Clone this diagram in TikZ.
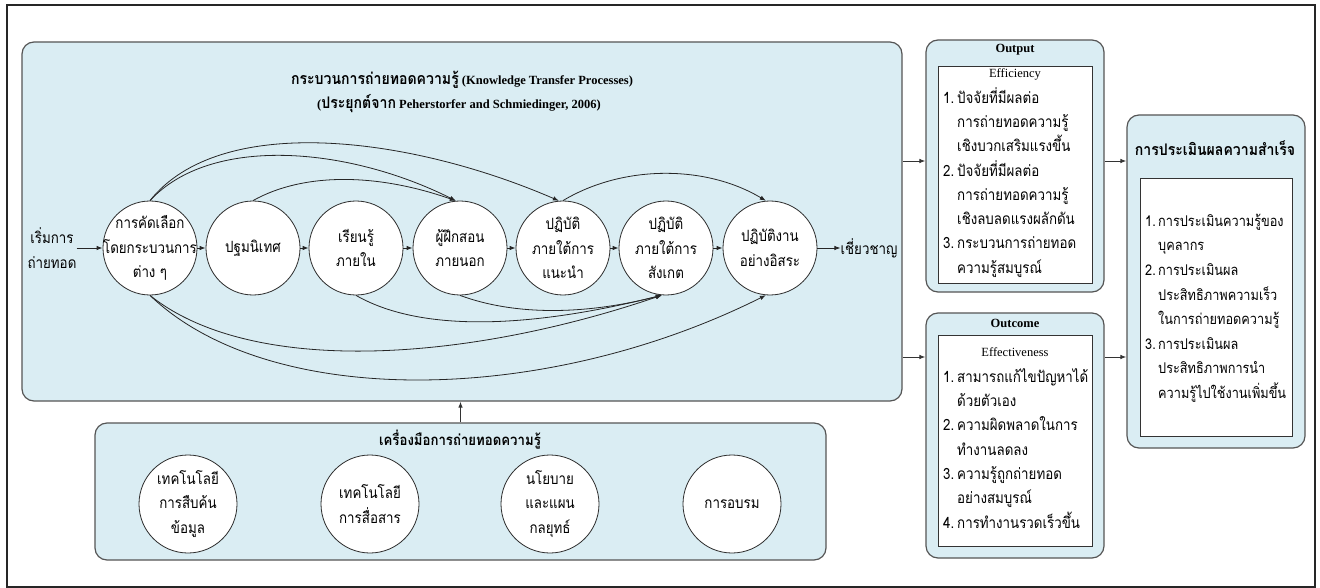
\documentclass[tikz,border=0pt]{standalone}
\usepackage{fontspec}
\setmainfont{Liberation Serif}
\newfontfamily\thai[Script=Thai, FakeStretch=0.86]{Loma}
\newfontfamily\thaib[Script=Thai, FakeStretch=0.88]{Loma}
\usetikzlibrary{arrows.meta,calc}
\definecolor{panelfill}{RGB}{218,237,243}
\definecolor{panelline}{RGB}{85,85,85}
\definecolor{circline}{RGB}{45,45,45}
\tikzset{
 panel/.style={draw=panelline, fill=panelfill, rounded corners=12pt, line width=1.2pt, inner sep=0pt},
 innerbox/.style={draw=black!80, fill=white, line width=0.8pt, inner sep=0pt},
 stage/.style={circle, draw=circline, fill=white, line width=0.8pt, minimum size=94pt, inner sep=0pt},
 tool/.style={circle, draw=circline, fill=white, line width=0.8pt, minimum size=98pt, inner sep=0pt},
 ctext/.style={font=\thai\fontsize{15.5}{24.5}\selectfont, align=center, inner sep=0pt},
 itemlist/.style={font=\thai\fontsize{15.5}{24.3}\selectfont, align=left, inner sep=0pt, anchor=north west},
 ttlthai/.style={font=\thaib\bfseries\fontsize{15}{18}\selectfont, inner sep=0pt},
 arr/.style={-{Latex[length=6pt,width=4.5pt]}, line width=0.8pt, draw=black!85},
 flow/.style={-{Latex[length=6pt,width=4.5pt]}, line width=0.9pt, draw=black!80},
}
\begin{document}
\begin{tikzpicture}[x=1pt,y=-1pt]
\useasboundingbox (0,0) rectangle (1320,588);
\draw[line width=2.5pt, draw=black!85] (7,5) rectangle (1315,587);

% panels
\node[panel, minimum width=880pt, minimum height=359pt] (proc) at (462,221.5) {};
\node[panel, minimum width=731pt, minimum height=137pt] (tools) at (460.5,491.5) {};
\node[panel, minimum width=178pt, minimum height=252pt] (outp) at (1015,166) {};
\node[innerbox, minimum width=154pt, minimum height=217pt] (outpin) at (1015,174.5) {};
\node[panel, minimum width=178pt, minimum height=245pt] (outc) at (1015,435.5) {};
\node[innerbox, minimum width=154pt, minimum height=211pt] (outcin) at (1015,440.5) {};
\node[panel, minimum width=178pt, minimum height=333pt] (eval) at (1216,281.5) {};
\node[innerbox, minimum width=152pt, minimum height=258pt] (evalin) at (1216,307) {};

% titles
\node[font=\bfseries\fontsize{12.5}{14}\selectfont, inner sep=0pt] (ttl1) at (462,80)
  {{\thaib\fontsize{16}{18}\selectfont กระบวนการถ่ายทอดความรู้} (Knowledge Transfer Processes)};
\node[font=\bfseries\fontsize{12.5}{14}\selectfont, inner sep=0pt] (ttl2) at (459,104)
  {({\thaib\fontsize{16}{18}\selectfont ประยุกต์จาก} Peherstorfer and Schmiedinger, 2006)};

% stages
\node[stage] (n1) at (150,248) {};
\node[stage] (n2) at (253,248) {};
\node[stage] (n3) at (356,248) {};
\node[stage] (n4) at (460,248) {};
\node[stage] (n5) at (563,248) {};
\node[stage] (n6) at (666,248) {};
\node[stage] (n7) at (770,248) {};
\node[ctext] (n1t) at (n1) {การคัดเลือก\\โดยกระบวนการ\\ต่าง ๆ};
\node[ctext] (n2t) at (n2) {ปฐมนิเทศ};
\node[ctext] (n3t) at (n3) {เรียนรู้\\ภายใน};
\node[ctext] (n4t) at (n4) {ผู้ฝึกสอน\\ภายนอก};
\node[ctext] (n5t) at (n5) {ปฏิบัติ\\ภายใต้การ\\แนะนำ};
\node[ctext] (n6t) at (n6) {ปฏิบัติ\\ภายใต้การ\\สังเกต};
\node[ctext] (n7t) at (n7) {ปฏิบัติงาน\\อย่างอิสระ};
\node[ctext] (start) at (52,248) {เริ่มการ\\ถ่ายทอด};
\node[ctext] (finish) at (869,248) {เชี่ยวชาญ};

\draw[arr] (start.east) -- (n1.west);
\draw[arr] (n1) -- (n2);
\draw[arr] (n2) -- (n3);
\draw[arr] (n3) -- (n4);
\draw[arr] (n4) -- (n5);
\draw[arr] (n5) -- (n6);
\draw[arr] (n6) -- (n7);
\draw[arr] (n7.east) -- (finish.west);

% upper arcs
\draw[arr] (n1.north) .. controls +(70,-88) and +(-150,-65) .. (n5.95);
\draw[arr] (n1.north) .. controls +(60,-65) and +(-110,-55) .. (n4.95);
\draw[arr] (n2.north) .. controls +(50,-28) and +(-80,-28) .. (n4.95);
\draw[arr] (n5.north) .. controls +(60,-36) and +(-60,-36) .. (n7.95);
% lower arcs
\draw[arr] (n1.south) .. controls +(120,115) and +(-220,110) .. (n7.265);
\draw[arr] (n1.south) .. controls +(100,80) and +(-200,68) .. (n6.265);
\draw[arr] (n3.south) .. controls +(70,40) and +(-120,30) .. (n6.265);
\draw[arr] (n4.south) .. controls +(60,22) and +(-70,18) .. (n6.265);

% tools
\node[ttlthai] (toolst) at (460,440) {เครื่องมือการถ่ายทอดความรู้};
\node[tool] (t1) at (188,504) {};
\node[tool] (t2) at (370,504) {};
\node[tool] (t3) at (550,504) {};
\node[tool] (t4) at (732,504) {};
\node[ctext] (t1t) at (t1) {เทคโนโลยี\\การสืบค้น\\ข้อมูล};
\node[ctext] (t2t) at (t2) {เทคโนโลยี\\การสื่อสาร};
\node[ctext] (t3t) at (t3) {นโยบาย\\และแผน\\กลยุทธ์};
\node[ctext] (t4t) at (t4) {การอบรม};
\draw[flow] (tools.north) -- (tools.north |- proc.south);

% output
\node[font=\bfseries\fontsize{12.5}{14}\selectfont, inner sep=0pt] (outpt) at (1015,50) {Output};
\node[font=\fontsize{12.5}{14}\selectfont, inner sep=0pt] (effi) at (1015,74) {Efficiency};
\node[itemlist] (outpl) at (943,84) {\rule{0pt}{19pt}\makebox[14pt][l]{1.}ปัจจัยที่มีผลต่อ\\
\hspace*{14pt}การถ่ายทอดความรู้\\
\hspace*{14pt}เชิงบวกเสริมแรงขึ้น\\
\makebox[14pt][l]{2.}ปัจจัยที่มีผลต่อ\\
\hspace*{14pt}การถ่ายทอดความรู้\\
\hspace*{14pt}เชิงลบลดแรงผลักดัน\\
\makebox[14pt][l]{3.}กระบวนการถ่ายทอด\\
\hspace*{14pt}ความรู้สมบูรณ์};

% outcome
\node[font=\bfseries\fontsize{12.5}{14}\selectfont, inner sep=0pt] (outct) at (1015,323) {Outcome};
\node[font=\fontsize{12.5}{14}\selectfont, inner sep=0pt] (effe) at (1015,352) {Effectiveness};
\node[itemlist] (outcl) at (943,363) {\rule{0pt}{19pt}\makebox[14pt][l]{1.}สามารถแก้ไขปัญหาได้\\
\hspace*{14pt}ด้วยตัวเอง\\
\makebox[14pt][l]{2.}ความผิดพลาดในการ\\
\hspace*{14pt}ทำงานลดลง\\
\makebox[14pt][l]{3.}ความรู้ถูกถ่ายทอด\\
\hspace*{14pt}อย่างสมบูรณ์\\
\makebox[14pt][l]{4.}การทำงานรวดเร็วขึ้น};

% evaluation
\node[ttlthai, font=\thaib\bfseries\fontsize{16}{18}\selectfont] (evalt) at (1215,148) {การประเมินผลความสำเร็จ};
\node[itemlist, font=\thai\fontsize{14.8}{24.6}\selectfont] (evall) at (1145,207) {\rule{0pt}{19pt}\makebox[13pt][l]{1.}การประเมินความรู้ของ\\
\hspace*{13pt}บุคลากร\\
\makebox[13pt][l]{2.}การประเมินผล\\
\hspace*{13pt}ประสิทธิภาพความเร็ว\\
\hspace*{13pt}ในการถ่ายทอดความรู้\\
\makebox[13pt][l]{3.}การประเมินผล\\
\hspace*{13pt}ประสิทธิภาพการนำ\\
\hspace*{13pt}ความรู้ไปใช้งานเพิ่มขึ้น};

% connectors between panels
\coordinate (ya) at (0,161);
\coordinate (yb) at (0,357);
\draw[flow] (proc.east |- ya) -- (outp.west |- ya);
\draw[flow] (proc.east |- yb) -- (outc.west |- yb);
\draw[flow] (outp.east |- ya) -- (eval.west |- ya);
\draw[flow] (outc.east |- yb) -- (eval.west |- yb);
\end{tikzpicture}
\end{document}
